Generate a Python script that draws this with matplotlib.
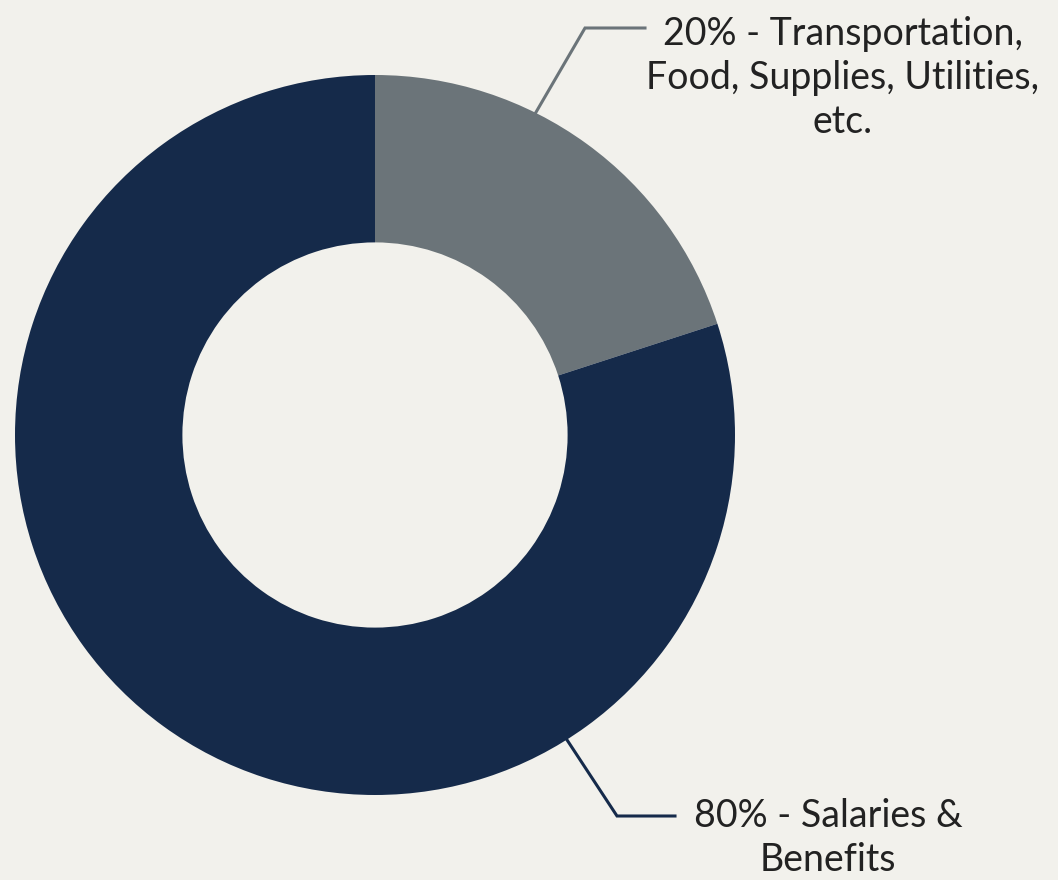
import numpy as np
import matplotlib.pyplot as plt

labels = ["20% - Transportation,\nFood, Supplies, Utilities,\netc.", "80% - Salaries &\nBenefits"]
shares = [20, 80]
colors = ["#6b7479", "#152a4a"]

bg = "#f2f1ec"
plt.rcParams['font.family'] = ['Lato', 'DejaVu Sans']

fig = plt.figure(figsize=(10.58, 8.8), dpi=100, facecolor=bg)
ax = fig.add_axes([0, 0, 1, 1])
ax.set_facecolor(bg)

cx, cy, r = 375, 445, 360
ax.pie(shares, colors=colors, startangle=90, counterclock=False, center=(cx, cy),
       radius=r, wedgeprops=dict(width=r * 0.465, edgecolor='none'), frame=True)
ax.set_xlim(0, 1058)
ax.set_ylim(0, 880)
ax.axis('off')

# leader lines: start on the outer edge, elbow, then a horizontal run to the label
anchor_deg = [63.5, -57.8]
elbows = [(585, 852), (617, 64)]
ends = [(645, 852), (675, 64)]
# baseline of the last line of each label
text_pos = [(843, 747), (828, 9)]
for ang, (ex, ey), (hx, hy), (tx, ty), lab, lc in zip(anchor_deg, elbows, ends, text_pos, labels, colors):
    sx = cx + r * np.cos(np.radians(ang))
    sy = cy + r * np.sin(np.radians(ang))
    ax.plot([sx, ex, hx], [sy, ey, hy], color=lc, lw=2.2, solid_joinstyle='miter')
    ax.text(tx, ty, lab, ha='center', va='baseline', fontsize=27,
            color='#222222', linespacing=1.28)

fig.savefig("out.png", dpi=100, facecolor=bg)
